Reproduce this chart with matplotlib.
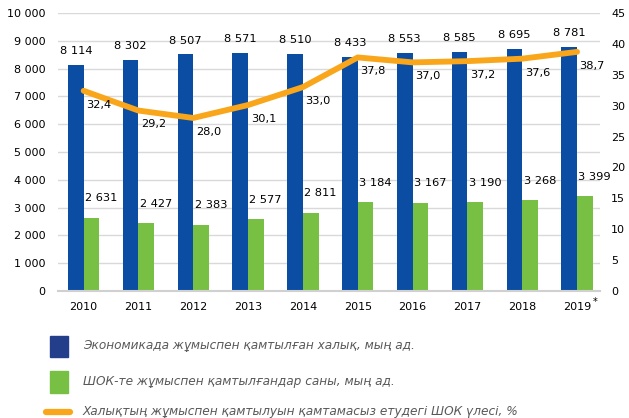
import numpy as np
import matplotlib.pyplot as plt
from matplotlib.patches import Rectangle
from matplotlib.lines import Line2D
from matplotlib.transforms import blended_transform_factory

years = ['2010', '2011', '2012', '2013', '2014', '2015', '2016', '2017', '2018', '2019']
employed = [8114, 8302, 8507, 8571, 8510, 8433, 8553, 8585, 8695, 8781]
sme = [2631, 2427, 2383, 2577, 2811, 3184, 3167, 3190, 3268, 3399]
share = [32.4, 29.2, 28.0, 30.1, 33.0, 37.8, 37.0, 37.2, 37.6, 38.7]

legend_labels = ['Экономикада жұмыспен қамтылған халық, мың ад.',
                 'ШОК-те жұмыспен қамтылғандар саны, мың ад.',
                 'Халықтың жұмыспен қамтылуын қамтамасыз етудегі ШОК үлесі, %']

blue = '#0B4DA2'
green = '#77C043'
orange = '#F9A61A'


def fmt(v):
    return '{:,}'.format(v).replace(',', ' ')


fig = plt.figure(figsize=(6.29, 4.18), dpi=100)
ax = fig.add_axes([0.092, 0.304, 0.862, 0.665])
x = np.arange(len(years))
w = 0.285

ax.bar(x - w/2, employed, w, color=blue, zorder=2)
ax.bar(x + w/2, sme, w, color=green, zorder=2)

for i in range(len(x)):
    ax.annotate(fmt(employed[i]), (x[i] - w/2, employed[i]), xytext=(0, 10),
                textcoords='offset points', ha='center', va='center', fontsize=8.2)
    ax.annotate(fmt(sme[i]), (x[i] + w/2, sme[i]), xytext=(7, 14),
                textcoords='offset points', ha='center', va='center', fontsize=8.2)

ax.set_ylim(0, 10000)
ax.set_xlim(-0.47, len(x) - 0.58)
ax.set_yticks(np.arange(0, 10001, 1000))
ax.set_yticklabels([fmt(v) for v in range(0, 10001, 1000)], fontsize=8)
ax.set_xticks(x)
ax.set_xticklabels(years, fontsize=8)
ax.tick_params(length=0, pad=8)
ax.tick_params(axis='y', pad=9)
ax.grid(axis='y', color='#D9D9D9', linewidth=1, zorder=0)
for s in ['top', 'left', 'right']:
    ax.spines[s].set_visible(False)
ax.spines['bottom'].set_color('#D0D0D0')
ax.spines['bottom'].set_linewidth(1.5)

# asterisk after 2019
trans = blended_transform_factory(ax.transData, fig.transFigure)
ax.text(x[-1] + 0.33, 1 - 302/418, '*', transform=trans, fontsize=7,
        ha='center', va='center')

ax2 = ax.twinx()
ax2.plot(x, share, color=orange, linewidth=4.2, solid_capstyle='round',
         solid_joinstyle='round', zorder=3)
for i in range(len(x)):
    ax2.annotate(str(share[i]).replace('.', ','), (x[i], share[i]), xytext=(11, -10),
                 textcoords='offset points', ha='center', va='center', fontsize=8.2)
ax2.set_ylim(0, 45)
ax2.set_yticks(np.arange(0, 46, 5))
ax2.tick_params(length=0, labelsize=8, pad=8)
for s in ['top', 'left', 'right', 'bottom']:
    ax2.spines[s].set_visible(False)

# legend
fig.add_artist(Rectangle((50/629, 1 - 357/418), 18/629, 21/418, color='#233F8C',
                         transform=fig.transFigure))
fig.add_artist(Rectangle((50/629, 1 - 393/418), 18/629, 22/418, color=green,
                         transform=fig.transFigure))
fig.add_artist(Line2D([46/629, 70/629], [1 - 412/418, 1 - 412/418], color=orange,
                      linewidth=4.5, solid_capstyle='round', transform=fig.transFigure))
for yy, lab in zip([346, 382, 412], legend_labels):
    fig.text(83/629, 1 - yy/418, lab, fontsize=8.7, style='italic', color='#595959',
             va='center', ha='left')

plt.savefig('out.png', dpi=100)
